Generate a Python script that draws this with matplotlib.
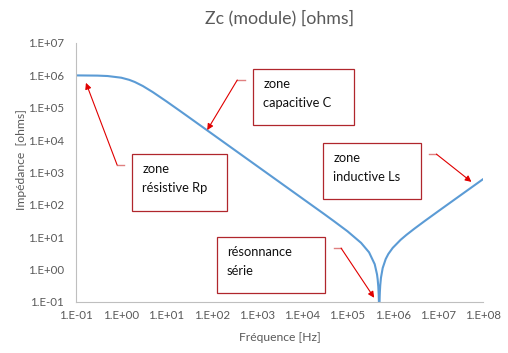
import numpy as np
import matplotlib.pyplot as plt
from matplotlib.patches import Rectangle
from matplotlib.ticker import LogLocator, NullLocator, FuncFormatter

# values (frequency in Hz, impedance in ohms)
freq = [0.1, 0.3, 0.5, 1, 1.5, 2, 3, 5, 10, 20, 30, 100, 1e3, 3e3, 1e4, 3e4, 5e4,
        1e5, 2e5, 3e5, 4e5, 4.5e5, 4.65e5, 4.8e5, 4.9e5, 4.95e5, 5.0e5, 5.03e5,
        5.06e5, 5.1e5, 5.15e5, 5.2e5, 5.3e5, 5.5e5, 6e5, 7e5, 8e5, 1e6, 1.5e6,
        2e6, 3e6, 5e6, 1e7, 3e7, 1e8]
impedance = [9.98e5, 9.83e5, 9.54e5, 8.47e5, 7.28e5, 6.23e5, 4.69e5, 3.03e5, 1.57e5,
             7.93e4, 5.30e4, 1.59e4, 1.59e3, 530, 159, 53, 31.5,
             15.3, 6.70, 3.42, 1.47, 0.71, 0.50, 0.30, 0.169, 0.105, 0.041, 0.001,
             0.034, 0.083, 0.146, 0.206, 0.327, 0.562, 1.117, 2.124, 3.04, 4.69, 8.36,
             11.77, 18.3, 31.1, 62.7, 188.5, 628]

# annotations: text lines, box (axes fraction x0, x1, y0, y1), tail segment, arrow head (data)
notes = [("zone", "capacitive C"), ("zone", "inductive Ls"),
         ("zone", "résistive Rp"), ("résonnance", "série")]
boxes = [(0.435, 0.683, 0.683, 0.900), (0.607, 0.848, 0.398, 0.614),
         (0.138, 0.371, 0.352, 0.571), (0.346, 0.612, 0.035, 0.251)]
tails = [((0.415, 0.857), (0.396, 0.857)), ((0.867, 0.571), (0.885, 0.571)),
         ((0.118, 0.529), (0.101, 0.529)), ((0.634, 0.208), (0.651, 0.208))]
heads = [(10**1.90, 10**4.31), (10**7.74, 10**2.71), (10**-0.78, 10**5.77), (10**5.59, 10**-0.87)]

font = ['Lato', 'DejaVu Sans']
grey = '#595959'

fig = plt.figure(figsize=(5.08, 3.53), dpi=100)
ax = fig.add_axes([0.1496, 0.1445, 0.8016, 0.7337])

ax.plot(freq, impedance, color='#5b9bd5', lw=1.5, solid_capstyle='round')
ax.set_xscale('log')
ax.set_yscale('log')
ax.set_xlim(0.1, 1e8)
ax.set_ylim(0.1, 1e7)

for axis in (ax.xaxis, ax.yaxis):
    axis.set_major_locator(LogLocator(base=10, numticks=20))
    axis.set_minor_locator(NullLocator())
    axis.set_major_formatter(FuncFormatter(lambda v, _: "1.E%+03d" % round(np.log10(v))))

ax.tick_params(length=0, labelsize=8.3, labelcolor=grey)
ax.tick_params(axis='y', pad=8.5)
ax.tick_params(axis='x', pad=6.0)
for lab in ax.get_xticklabels() + ax.get_yticklabels():
    lab.set_family(font)

for s in ('top', 'right'):
    ax.spines[s].set_visible(False)
for s in ('left', 'bottom'):
    ax.spines[s].set_color('#bfbfbf')
    ax.spines[s].set_linewidth(0.8)

ax.set_title("Zc (module) [ohms]", fontsize=12.8, color=grey, family=font, pad=14)
ax.set_xlabel("Fréquence [Hz]", fontsize=8.7, color=grey, family=font, va='center')
ax.xaxis.set_label_coords(0.5, -0.139)
ax.set_ylabel("Impédance  [ohms]", fontsize=8.7, color=grey, family=font, va='center')
ax.yaxis.set_label_coords(-0.133, 0.548)

for (l1, l2), (x0, x1, y0, y1), (t0, t1), head in zip(notes, boxes, tails, heads):
    ax.add_patch(Rectangle((x0, y0), x1 - x0, y1 - y0, transform=ax.transAxes,
                           facecolor='white', edgecolor='#b0262c', lw=0.9,
                           clip_on=False, zorder=3))
    ax.text(x0 + 0.0246, y1 - 0.073, l1, transform=ax.transAxes, ha='left', va='baseline',
            fontsize=9.3, color='#111111', family=font, zorder=4)
    ax.text(x0 + 0.0246, y1 - 0.147, l2, transform=ax.transAxes, ha='left', va='baseline',
            fontsize=9.3, color='#111111', family=font, zorder=4)
    ax.plot([t0[0], t1[0]], [t0[1], t1[1]], transform=ax.transAxes, color='#e08080',
            lw=1.0, clip_on=False, zorder=4)
    ax.annotate("", xy=head, xycoords='data', xytext=t1, textcoords='axes fraction',
                arrowprops=dict(arrowstyle='-|>', color='#e00000', lw=0.8,
                                mutation_scale=9, shrinkA=0, shrinkB=0), zorder=4)

fig.savefig("out.png", dpi=100)
